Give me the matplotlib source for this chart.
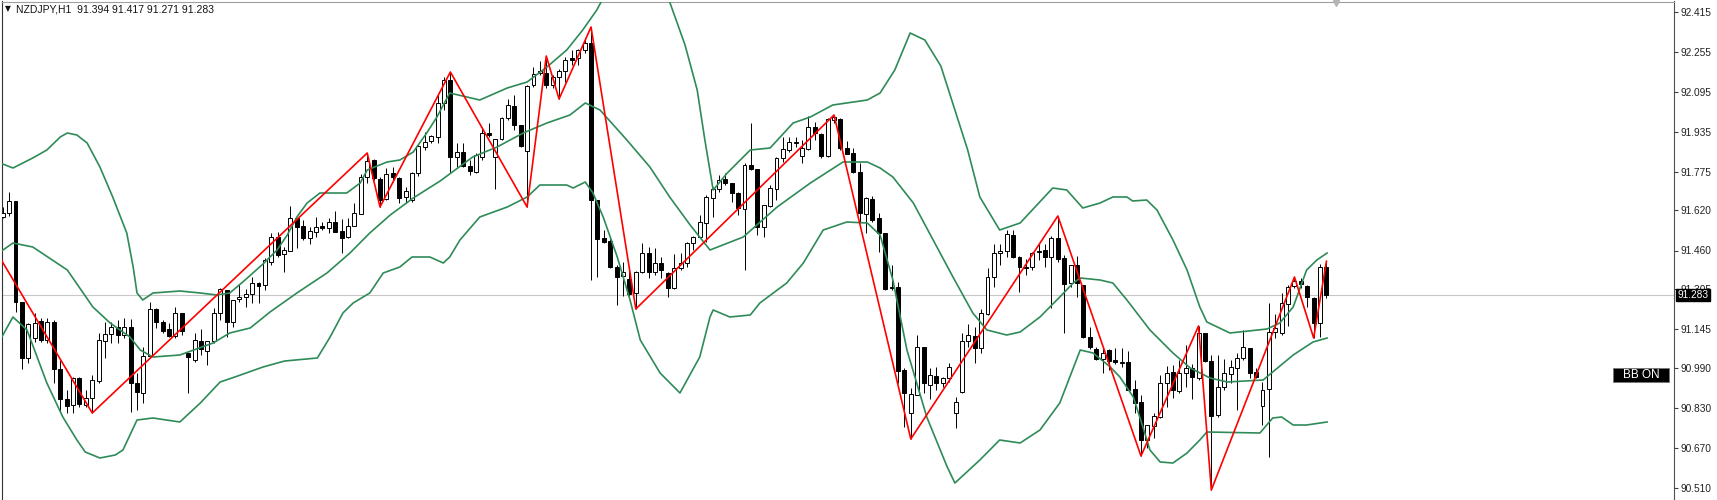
import numpy as np
import matplotlib.pyplot as plt
from matplotlib.patches import Rectangle
from matplotlib.lines import Line2D
import matplotlib.transforms as mtransforms

plt.rcParams['font.family'] = ['Liberation Sans', 'DejaVu Sans']

# OHLC candles, NZDJPY H1 (one value per bar, oldest first)
opens = [
    91.595, 91.609, 91.658, 91.255, 91.029, 91.109, 91.179, 91.102, 91.173, 90.985,
    90.865, 90.842, 90.949, 90.842, 90.869, 90.939, 91.098, 91.125, 91.155, 91.122,
    91.153, 90.931, 90.889, 91.038, 91.225, 91.173, 91.145, 91.118, 91.211, 91.049,
    91.022, 91.099, 91.059, 91.099, 91.209, 91.302, 91.175, 91.265, 91.273, 91.286,
    91.331, 91.322, 91.415, 91.515, 91.446, 91.459, 91.591, 91.558, 91.509, 91.535,
    91.558, 91.549, 91.573, 91.538, 91.513, 91.559, 91.606, 91.753, 91.822, 91.745,
    91.665, 91.769, 91.749, 91.673, 91.662, 91.769, 91.875, 91.899, 91.915, 92.049,
    92.142, 91.835, 91.855, 91.798, 91.775, 91.835, 91.929, 91.835, 91.905, 91.989,
    92.039, 91.962, 91.859, 92.122, 92.171, 92.171, 92.122, 92.153, 92.179, 92.229,
    92.229, 92.262, 92.289, 91.662, 91.509, 91.499, 91.395, 91.358, 91.345, 91.291,
    91.375, 91.449, 91.375, 91.409, 91.371, 91.309, 91.389, 91.409, 91.491, 91.515,
    91.571, 91.669, 91.705, 91.746, 91.729, 91.689, 91.625, 91.802, 91.785, 91.555,
    91.638, 91.705, 91.829, 91.862, 91.891, 91.838, 91.865, 91.955, 91.926, 91.838,
    91.982, 91.985, 91.869, 91.849, 91.775, 91.606, 91.665, 91.589, 91.531, 91.315,
    91.313, 90.982, 90.809, 90.882, 91.073, 90.922, 90.958, 90.929, 90.949, 90.811,
    90.895, 91.099, 91.118, 91.069, 91.206, 91.353, 91.451, 91.459, 91.522, 91.435,
    91.395, 91.393, 91.454, 91.462, 91.435, 91.509, 91.429, 91.331, 91.402, 91.322,
    91.115, 91.065, 91.025, 91.062, 91.022, 91.011, 91.015, 90.905, 90.855, 90.702,
    90.758, 90.795, 90.931, 90.974, 90.899, 90.971, 90.989, 90.949, 91.129, 91.019,
    90.802, 90.913, 90.966, 90.989, 91.029, 91.069, 90.973, 90.838, 90.905, 91.135,
    91.131, 91.246, 91.318, 91.339, 91.318, 91.269, 91.169, 91.394]
highs = [
    91.633, 91.695, 91.658, 91.255, 91.171, 91.209, 91.189, 91.189, 91.182, 91.022,
    90.902, 90.953, 90.953, 90.902, 90.962, 91.129, 91.175, 91.175, 91.182, 91.189,
    91.185, 90.969, 91.075, 91.255, 91.229, 91.182, 91.169, 91.235, 91.211, 91.049,
    91.129, 91.147, 91.099, 91.229, 91.309, 91.302, 91.262, 91.325, 91.305, 91.353,
    91.335, 91.429, 91.529, 91.535, 91.475, 91.638, 91.591, 91.582, 91.553, 91.593,
    91.575, 91.589, 91.619, 91.585, 91.589, 91.651, 91.766, 91.850, 91.825, 91.755,
    91.789, 91.795, 91.755, 91.715, 91.775, 91.886, 91.935, 91.922, 92.082, 92.155,
    92.174, 91.889, 91.889, 91.822, 91.849, 91.955, 91.971, 91.905, 91.995, 92.065,
    92.082, 91.962, 92.122, 92.195, 92.218, 92.238, 92.162, 92.185, 92.233, 92.262,
    92.265, 92.309, 92.354, 91.662, 91.542, 91.505, 91.402, 91.415, 91.395, 91.379,
    91.489, 91.475, 91.469, 91.435, 91.375, 91.446, 91.449, 91.495, 91.518, 91.602,
    91.682, 91.715, 91.762, 91.771, 91.731, 91.695, 91.811, 91.969, 91.785, 91.642,
    91.722, 91.835, 91.915, 91.915, 91.915, 91.902, 91.998, 91.975, 91.929, 91.989,
    92.002, 91.989, 91.899, 91.869, 91.809, 91.675, 91.678, 91.609, 91.531, 91.402,
    91.335, 90.989, 90.909, 91.122, 91.075, 90.989, 90.995, 90.955, 91.011, 90.873,
    91.131, 91.166, 91.155, 91.225, 91.389, 91.486, 91.486, 91.542, 91.542, 91.438,
    91.425, 91.455, 91.486, 91.486, 91.518, 91.598, 91.442, 91.402, 91.438, 91.322,
    91.155, 91.075, 91.069, 91.065, 91.069, 91.069, 91.059, 90.942, 90.882, 90.762,
    90.809, 90.962, 90.998, 91.002, 91.022, 91.082, 91.006, 91.158, 91.131, 91.042,
    91.042, 91.025, 91.022, 91.049, 91.142, 91.069, 90.989, 90.935, 91.251, 91.206,
    91.289, 91.322, 91.354, 91.350, 91.322, 91.275, 91.406, 91.417]
lows = [
    91.589, 91.598, 91.213, 90.985, 91.009, 91.095, 91.095, 91.091, 90.931, 90.815,
    90.811, 90.811, 90.835, 90.835, 90.810, 90.929, 91.031, 91.091, 91.089, 91.109,
    90.815, 90.822, 90.849, 91.029, 91.149, 91.129, 91.113, 91.109, 91.122, 90.889,
    91.015, 91.042, 91.002, 91.089, 91.182, 91.113, 91.153, 91.255, 91.235, 91.249,
    91.249, 91.302, 91.402, 91.435, 91.375, 91.459, 91.469, 91.502, 91.486, 91.513,
    91.542, 91.529, 91.535, 91.451, 91.509, 91.559, 91.606, 91.729, 91.742, 91.634,
    91.662, 91.735, 91.651, 91.649, 91.655, 91.758, 91.862, 91.891, 91.891, 92.022,
    91.769, 91.795, 91.795, 91.762, 91.769, 91.822, 91.915, 91.705, 91.902, 91.982,
    91.942, 91.875, 91.634, 92.115, 92.162, 92.109, 92.109, 92.066, 92.135, 92.202,
    92.202, 92.249, 91.342, 91.355, 91.489, 91.389, 91.242, 91.278, 91.278, 91.226,
    91.369, 91.349, 91.362, 91.349, 91.275, 91.305, 91.382, 91.395, 91.462, 91.509,
    91.495, 91.595, 91.695, 91.722, 91.655, 91.602, 91.382, 91.782, 91.522, 91.515,
    91.633, 91.662, 91.815, 91.855, 91.875, 91.809, 91.862, 91.902, 91.829, 91.835,
    91.969, 91.862, 91.846, 91.769, 91.569, 91.529, 91.575, 91.455, 91.302, 91.302,
    90.929, 90.755, 90.706, 90.882, 90.889, 90.865, 90.902, 90.913, 90.935, 90.749,
    90.891, 91.075, 91.009, 91.049, 91.202, 91.315, 91.402, 91.435, 91.429, 91.295,
    91.362, 91.382, 91.422, 91.395, 91.229, 91.415, 91.129, 91.315, 91.275, 91.109,
    91.065, 91.022, 90.969, 90.982, 91.006, 90.995, 90.902, 90.809, 90.638, 90.669,
    90.709, 90.789, 90.835, 90.869, 90.889, 90.915, 90.865, 90.942, 91.015, 90.502,
    90.795, 90.902, 90.929, 90.822, 91.022, 90.949, 90.949, 90.762, 90.633, 91.109,
    91.122, 91.158, 91.309, 91.309, 91.235, 91.110, 91.115, 91.271]
closes = [
    91.611, 91.658, 91.253, 91.029, 91.166, 91.169, 91.102, 91.175, 90.985, 90.865,
    90.838, 90.949, 90.846, 90.871, 90.942, 91.102, 91.125, 91.155, 91.122, 91.153,
    90.929, 90.893, 91.039, 91.225, 91.175, 91.139, 91.118, 91.211, 91.138, 91.035,
    91.102, 91.065, 91.099, 91.211, 91.305, 91.175, 91.262, 91.275, 91.286, 91.329,
    91.318, 91.422, 91.513, 91.442, 91.462, 91.591, 91.555, 91.509, 91.539, 91.555,
    91.549, 91.573, 91.535, 91.511, 91.559, 91.611, 91.753, 91.819, 91.749, 91.662,
    91.766, 91.753, 91.669, 91.699, 91.771, 91.878, 91.895, 91.918, 92.051, 92.142,
    91.835, 91.855, 91.798, 91.779, 91.842, 91.931, 91.922, 91.905, 91.989, 92.042,
    91.962, 91.879, 92.118, 92.166, 92.179, 92.122, 92.155, 92.179, 92.222, 92.222,
    92.262, 92.289, 91.662, 91.505, 91.495, 91.395, 91.353, 91.375, 91.286, 91.375,
    91.449, 91.375, 91.409, 91.382, 91.309, 91.389, 91.409, 91.489, 91.515, 91.573,
    91.675, 91.706, 91.742, 91.729, 91.689, 91.629, 91.802, 91.786, 91.555, 91.642,
    91.709, 91.829, 91.865, 91.895, 91.895, 91.869, 91.955, 91.929, 91.838, 91.985,
    91.995, 91.869, 91.846, 91.775, 91.609, 91.669, 91.582, 91.531, 91.305, 91.309,
    90.979, 90.891, 90.886, 91.075, 90.929, 90.962, 90.931, 90.949, 90.993, 90.855,
    91.099, 91.122, 91.069, 91.209, 91.353, 91.451, 91.459, 91.525, 91.435, 91.393,
    91.391, 91.451, 91.458, 91.435, 91.511, 91.425, 91.326, 91.402, 91.329, 91.115,
    91.073, 91.025, 91.051, 91.019, 91.014, 91.015, 90.902, 90.851, 90.702, 90.762,
    90.798, 90.929, 90.971, 90.902, 90.969, 90.989, 90.955, 91.129, 91.019, 90.798,
    90.913, 90.969, 90.993, 91.029, 91.073, 90.969, 90.953, 90.902, 91.135, 91.149,
    91.249, 91.315, 91.339, 91.325, 91.275, 91.169, 91.393, 91.283]

# Bollinger band lines (bar position, price)
bb_upper_bar = [
    -0.4, 1.6, 4.7, 6.9, 9.0, 10.1, 11.6, 13.2, 15.2, 17.2,
    19.4, 20.4, 21.0, 21.9, 23.5, 27.7, 30.9, 33.5, 35.5, 37.9,
    40.7, 42.9, 44.5, 46.0, 47.6, 49.6, 53.8, 55.9, 57.0, 60.1,
    62.1, 64.2, 66.3, 67.9, 69.9, 74.6, 78.9, 82.0, 85.1, 88.2,
    90.7, 92.9, 95.0, 98.9, 102.0, 104.3, 106.7, 108.6, 109.8, 111.1,
    113.3, 116.9, 120.0, 123.6, 126.3, 129.8, 135.2, 137.2, 139.5, 141.9,
    144.2, 146.7, 148.9, 150.9, 152.8, 155.9, 159.1, 164.2, 166.4, 168.9,
    171.6, 173.6, 175.8, 176.7, 178.9, 180.5, 183.0, 185.2, 187.2, 188.3,
    191.9, 197.7, 199.7, 201.8, 203.9, 205.5, 207.1]
bb_upper = [
    91.810, 91.790, 91.830, 91.862, 91.914, 91.930, 91.922, 91.890, 91.794, 91.674,
    91.530, 91.394, 91.290, 91.262, 91.290, 91.298, 91.290, 91.282, 91.290, 91.342,
    91.406, 91.462, 91.522, 91.594, 91.650, 91.690, 91.690, 91.730, 91.782, 91.814,
    91.822, 91.854, 91.930, 91.994, 92.090, 92.062, 92.110, 92.134, 92.194, 92.262,
    92.342, 92.422, 92.522, 92.642, 92.582, 92.454, 92.282, 92.102, 91.902, 91.702,
    91.770, 91.862, 91.870, 91.970, 91.994, 92.042, 92.062, 92.090, 92.182, 92.330,
    92.302, 92.198, 92.022, 91.862, 91.674, 91.542, 91.570, 91.710, 91.702, 91.630,
    91.650, 91.674, 91.674, 91.658, 91.662, 91.622, 91.502, 91.382, 91.234, 91.174,
    91.130, 91.146, 91.170, 91.234, 91.382, 91.422, 91.450]

bb_mid_bar = [
    -0.4, 1.6, 4.7, 10.1, 14.1, 16.8, 19.9, 21.5, 23.5, 27.7,
    32.9, 35.5, 38.7, 41.8, 46.0, 50.7, 54.3, 57.4, 60.6, 64.2,
    68.4, 73.5, 77.3, 81.4, 85.1, 88.7, 91.1, 93.4, 97.6, 101.2,
    104.3, 107.5, 110.6, 115.8, 121.1, 126.3, 131.4, 135.2, 137.2, 139.2,
    142.4, 145.5, 148.6, 151.7, 153.9, 157.0, 159.1, 162.2, 165.3, 167.4,
    168.5, 171.6, 173.6, 175.8, 179.4, 183.0, 185.7, 188.8, 191.5, 197.1,
    198.6, 201.8, 204.9, 207.1]
bb_mid = [
    91.454, 91.490, 91.474, 91.382, 91.234, 91.170, 91.114, 91.062, 91.034, 91.042,
    91.090, 91.130, 91.150, 91.214, 91.290, 91.370, 91.450, 91.530, 91.602, 91.670,
    91.738, 91.834, 91.874, 91.930, 91.970, 92.002, 92.050, 92.022, 91.902, 91.794,
    91.674, 91.562, 91.462, 91.514, 91.634, 91.730, 91.814, 91.814, 91.790, 91.754,
    91.650, 91.502, 91.354, 91.210, 91.142, 91.122, 91.134, 91.194, 91.274, 91.330,
    91.350, 91.342, 91.330, 91.262, 91.142, 91.050, 90.990, 90.950, 90.934, 90.942,
    90.974, 91.042, 91.094, 91.110]

bb_lower_bar = [
    -0.4, 1.6, 3.8, 6.9, 9.4, 11.6, 12.9, 15.2, 17.6, 18.8,
    19.9, 21.0, 23.5, 27.7, 30.9, 34.0, 36.3, 40.7, 44.1, 49.2,
    51.2, 53.2, 54.8, 57.4, 59.5, 62.1, 64.0, 66.8, 68.9, 69.9,
    71.5, 74.6, 78.9, 82.0, 84.0, 88.2, 89.2, 91.1, 92.3, 93.9,
    96.1, 98.1, 99.7, 102.8, 105.9, 109.0, 110.6, 111.1, 113.7, 116.9,
    118.4, 122.6, 125.2, 128.3, 132.0, 135.2, 137.2, 139.2, 141.4, 144.5,
    147.7, 148.9, 152.8, 155.9, 159.1, 162.2, 165.3, 168.5, 170.5, 173.2,
    174.7, 176.8, 178.3, 179.4, 181.0, 183.0, 185.2, 187.2, 188.3, 196.6,
    198.6, 200.0, 201.8, 203.9, 207.1]
bb_lower = [
    91.102, 91.194, 91.142, 90.930, 90.794, 90.702, 90.654, 90.630, 90.642, 90.662,
    90.722, 90.782, 90.790, 90.774, 90.850, 90.934, 90.954, 90.994, 91.018, 91.030,
    91.114, 91.210, 91.250, 91.290, 91.370, 91.394, 91.434, 91.434, 91.410, 91.434,
    91.502, 91.594, 91.634, 91.674, 91.722, 91.722, 91.710, 91.734, 91.690, 91.594,
    91.434, 91.262, 91.102, 90.970, 90.890, 91.034, 91.194, 91.222, 91.194, 91.202,
    91.250, 91.330, 91.410, 91.542, 91.574, 91.570, 91.522, 91.342, 91.062, 90.794,
    90.594, 90.530, 90.622, 90.702, 90.690, 90.742, 90.850, 91.062, 91.050, 90.994,
    90.954, 90.874, 90.754, 90.662, 90.614, 90.610, 90.650, 90.702, 90.734, 90.730,
    90.790, 90.794, 90.762, 90.762, 90.774]

# ZigZag pivots (bar, price)
zz_bar = [-0.4, 14, 57, 59, 70, 82, 85, 87, 92, 99, 130, 142, 165, 178, 187, 189, 202, 205, 207]
zz_price = [91.430, 90.810, 91.850, 91.634, 92.174, 91.634, 92.238, 92.066, 92.354, 91.226,
            92.002, 90.706, 91.598, 90.638, 91.158, 90.502, 91.354, 91.110, 91.417]

price_ticks = [92.415, 92.255, 92.095, 91.935, 91.775, 91.620, 91.460, 91.305,
               91.145, 90.990, 90.830, 90.670, 90.510]
last_price = 91.283
header = "NZDJPY,H1  91.394 91.417 91.271 91.283"

W, H = 1717, 500
fig = plt.figure(figsize=(W / 100, H / 100), dpi=100)
ax = fig.add_axes([1.5 / W, 0, (1674 - 1.5) / W, 1 - 1.5 / H])
ax.set_xlim(-0.19, 261.35)
ax.set_ylim(90.462, 92.456)

o = np.array(opens)
h = np.array(highs)
l = np.array(lows)
c = np.array(closes)
bars = np.arange(len(o))
up = c >= o

# current price line
ax.axhline(last_price, color='#c8c8c8', lw=0.8, zorder=1)

# candles
ax.vlines(bars, l, h, color='black', lw=0.7, zorder=2)
ax.bar(bars[up], (c - o)[up], bottom=o[up], width=0.62, color='white',
       edgecolor='black', linewidth=0.7, zorder=3)
ax.bar(bars[~up], (o - c)[~up], bottom=c[~up], width=0.62, color='black',
       edgecolor='black', linewidth=0.7, zorder=3)

# indicators
green = '#2e8b57'
ax.plot(bb_upper_bar, bb_upper, color=green, lw=1.2, zorder=4)
ax.plot(bb_mid_bar, bb_mid, color=green, lw=1.2, zorder=4)
ax.plot(bb_lower_bar, bb_lower, color=green, lw=1.2, zorder=4)
ax.plot(zz_bar, zz_price, color='#ff0000', lw=1.2, zorder=5)

# price scale on the right
ax.yaxis.tick_right()
ax.set_yticks(price_ticks)
ax.set_yticklabels(['%.3f' % t for t in price_ticks])
ax.tick_params(axis='y', direction='out', length=3, width=0.8, color='#404040',
               labelsize=7.3, labelcolor='#222222', pad=2)
ax.set_xticks([])
ax.spines['bottom'].set_visible(False)
ax.spines['left'].set_color('#333333')
ax.spines['top'].set_color('#a0a0a0')
ax.spines['right'].set_color('#505050')
ax.spines['right'].set_linewidth(0.8)

# current price tag (sits over the nearby scale label, as in the terminal)
trans = mtransforms.blended_transform_factory(ax.transAxes, ax.transData)
ax.text(1.002, last_price, '%.3f' % last_price, transform=trans, ha='left', va='center',
        color='white', fontsize=7.3, zorder=10, clip_on=False,
        bbox=dict(boxstyle='square,pad=0.12', fc='black', ec='black'))

# header
fig.text(5 / W, 1 - 9 / H, '\u25bc', fontsize=5.5, family='DejaVu Sans',
         ha='left', va='center', color='#111111')
fig.text(16 / W, 1 - 9 / H, header, fontsize=7.5, ha='left', va='center', color='#111111')

# "BB ON" button
fig.add_artist(Rectangle((1613 / W, 1 - 382 / H), 56 / W, 14 / H, transform=fig.transFigure,
                         fc='black', ec='#777777', lw=0.6))
fig.text(1641 / W, 1 - 375.5 / H, 'BB ON', fontsize=8.5, color='white', ha='center', va='center')

# chart shift marker
fig.add_artist(Line2D([1336 / W], [1 - 3 / H], marker='v', ms=5, color='#b4b4b4',
                      mec='#b4b4b4', transform=fig.transFigure))

fig.savefig('out.png', dpi=100)
